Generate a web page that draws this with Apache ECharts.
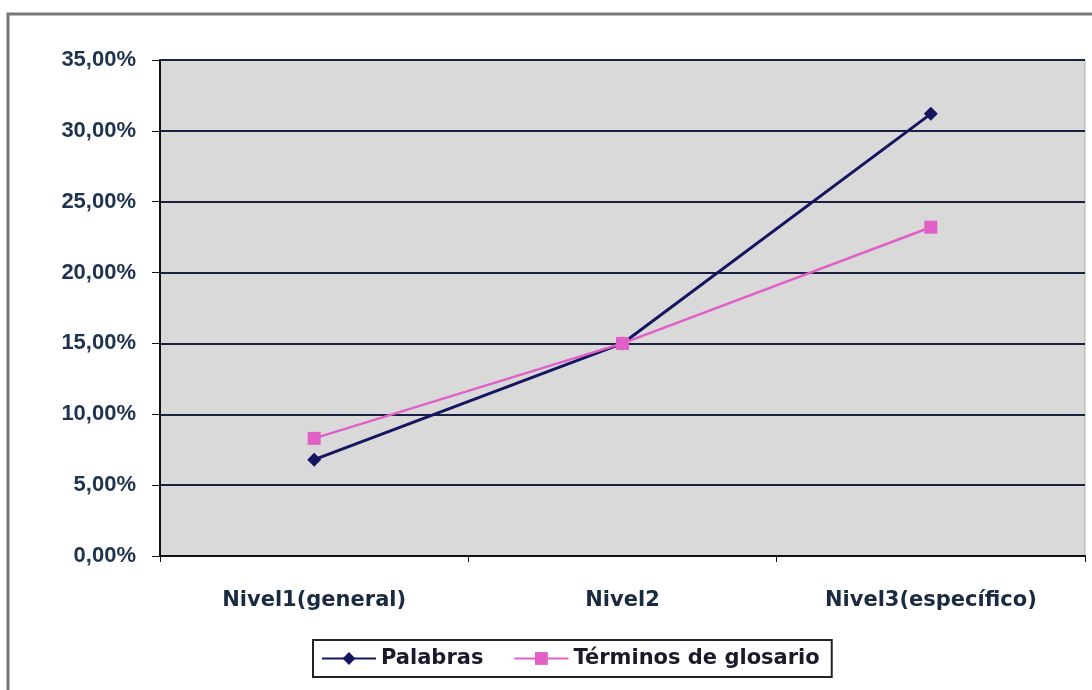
<!DOCTYPE html>
<html><head><meta charset="utf-8">
<script src="https://cdn.jsdelivr.net/npm/echarts@6/dist/echarts.min.js"></script>
<style>html,body{margin:0;padding:0;background:#fff}#c{width:1092px;height:690px}</style>
</head><body><div id="c"></div>
<script>
const categories = ['Nivel1(general)', 'Nivel2', 'Nivel3(específico)'];
const palabras = [6.8, 15.0, 31.2];
const terminos = [8.3, 15.0, 23.2];
const yTicks = [0, 5, 10, 15, 20, 25, 30, 35];

const chart = echarts.init(document.getElementById('c'));
const font = 'Liberation Sans, Arial, sans-serif';
const wide = 'DejaVu Sans, Verdana, sans-serif';
chart.setOption({
  backgroundColor: '#ffffff',
  animation: false,
  graphic: [{
    type: 'rect', shape: {x: 8, y: 14, width: 1090, height: 690},
    style: {fill: 'none', stroke: '#777', lineWidth: 3}
  }],
  grid: {left: 160, right: 7, top: 60, bottom: 134, backgroundColor: '#d9d9d9', show: true, borderWidth: 1, borderColor: '#b0b0b0'},
  legend: {
    bottom: 13, left: 313,
    itemWidth: 54, itemHeight: 16, itemGap: 30,
    padding: [8, 12, 8, 8],
    borderColor: '#222', borderWidth: 2, backgroundColor: '#fff',
    textStyle: {fontFamily: wide, fontWeight: 'bold', fontSize: 21, color: '#1a1a2a'},
    data: ['Palabras', 'Términos de glosario']
  },
  xAxis: {
    type: 'category', data: categories, boundaryGap: true,
    axisLine: {lineStyle: {color: '#111', width: 2}},
    axisTick: {show: true, length: 6, lineStyle: {color: '#111'}},
    axisLabel: {fontFamily: wide, fontWeight: 'bold', fontSize: 21, color: '#1a2a40', margin: 34}
  },
  yAxis: {
    type: 'value', min: 0, max: 35, interval: 5,
    axisLine: {show: true, lineStyle: {color: '#111', width: 2}},
    axisTick: {show: true, length: 8, lineStyle: {color: '#111'}},
    axisLabel: {fontFamily: font, fontWeight: 'bold', fontSize: 22, color: '#1f3350', margin: 24,
      formatter: v => yTicks.includes(v) ? v.toFixed(2).replace('.', ',') + '%' : ''},
    splitLine: {lineStyle: {color: '#1a2040', width: 2}}
  },
  series: [
    {name: 'Palabras', type: 'line', data: palabras, symbol: 'diamond', symbolSize: 14,
      itemStyle: {color: '#151560'}, lineStyle: {color: '#151560', width: 3}},
    {name: 'Términos de glosario', type: 'line', data: terminos, symbol: 'rect', symbolSize: 13,
      itemStyle: {color: '#e060c8'}, lineStyle: {color: '#e060c8', width: 2.5}}
  ]
});
</script></body></html>
